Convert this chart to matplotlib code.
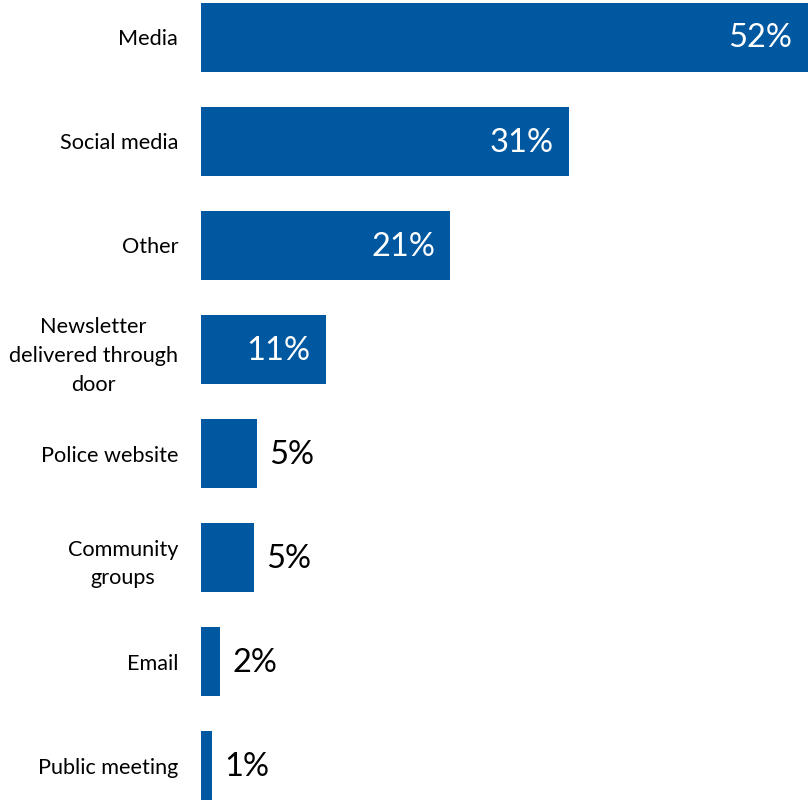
import matplotlib
matplotlib.use("Agg")
import matplotlib.pyplot as plt

categories = ["Media", "Social media", "Other", "Newsletter\ndelivered through\ndoor",
              "Police website", "Community\ngroups", "Email", "Public meeting"]
values = [51.1, 31.0, 21.0, 10.5, 4.7, 4.45, 1.6, 0.9]
value_labels = ["52%", "31%", "21%", "11%", "5%", "5%", "2%", "1%"]

BAR = "#0058A0"
plt.rcParams['font.family'] = ['Lato', 'DejaVu Sans']

W, H = 810, 801
fig = plt.figure(figsize=(W / 100, H / 100), dpi=100)
ax = fig.add_axes([201 / W, -17 / H, 609 / W, 833 / H])

y = list(range(len(categories)))
ax.barh(y, values, height=0.663, color=BAR)
ax.set_xlim(0, 609 / 11.87)
ax.set_ylim(len(categories) - 0.5, -0.5)

ax.set_yticks(y)
ax.set_yticklabels(categories, fontsize=15.6, linespacing=1.55, multialignment="center")
ax.tick_params(axis="y", length=0, pad=16.5)
ax.set_xticks([])
for s in ax.spines.values():
    s.set_visible(False)

for yi, v, lab in zip(y, values, value_labels):
    if v >= 10:
        ax.annotate(lab, (v, yi), xytext=(-11, -1), textcoords="offset points",
                    ha="right", va="center", color="white", fontsize=23.5)
    else:
        ax.annotate(lab, (v, yi), xytext=(9, -1), textcoords="offset points",
                    ha="left", va="center", color="black", fontsize=23.5)

fig.savefig("out.png", dpi=100)
